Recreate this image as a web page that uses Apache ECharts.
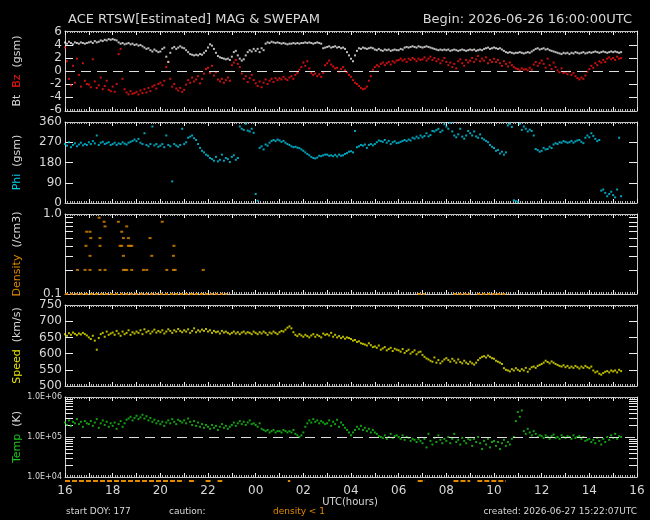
<!DOCTYPE html>
<html>
<head>
<meta charset="utf-8">
<script src="https://cdn.jsdelivr.net/npm/echarts@6/dist/echarts.min.js"></script>
<style>html,body{margin:0;background:#000}#chart{width:650px;height:520px}</style>
</head>
<body>
<div id="chart"></div>
<script>
// 5-minute samples starting 2026-06-26 16:00 UTC (hours since start = i * 5/60)
const STEP_H = 5 / 60;

const bt = [
  4.4,4.2,4.5,4.3,4.1,4.4,4.3,4.2,4.4,4.3,4.2,4.3,
  4.4,4.5,4.3,4.6,4.4,4.5,4.7,4.6,4.8,4.7,4.9,4.8,
  4.9,4.8,4.7,4.4,4.2,4.3,4.1,4.2,4.3,4.1,4.2,4.0,
  4.1,3.9,4.0,3.8,3.6,3.4,3.5,3.2,3.0,3.3,3.1,2.9,
  3.0,3.4,3.6,2.2,1.4,2.8,3.5,3.7,3.4,3.6,3.8,3.6,
  3.5,3.2,2.9,2.6,2.5,2.4,2.5,2.4,2.6,2.5,2.8,3.1,
  3.6,4.1,3.9,3.4,2.8,2.3,2.1,2.0,1.9,1.8,1.9,1.7,
  2.2,2.9,3.1,2.4,1.9,1.6,1.8,2.4,2.9,3.2,3.0,3.4,
  3.1,3.4,2.9,3.5,3.2,4.2,4.4,4.3,4.5,4.4,4.3,4.4,
  4.3,4.2,4.3,4.2,4.1,4.2,4.2,4.3,4.2,4.3,4.2,4.3,
  4.3,4.4,4.3,4.4,4.3,4.2,4.3,4.4,4.3,4.2,3.5,3.6,
  3.7,3.8,3.6,3.7,3.8,3.6,3.7,3.5,3.6,3.4,2.9,2.4,
  1.9,1.5,2.4,3.1,3.5,3.4,3.6,3.5,3.4,3.5,3.6,3.5,
  3.3,3.2,3.4,3.2,3.1,3.3,3.2,3.3,3.1,3.2,3.3,3.2,
  3.2,3.4,3.3,3.6,3.7,3.6,3.7,3.8,3.7,3.6,3.8,3.7,
  3.6,3.7,3.8,3.7,3.6,3.5,3.4,3.3,3.2,3.3,3.2,3.3,
  3.2,3.3,3.1,3.2,3.3,3.2,3.1,3.2,3.3,3.2,3.1,3.2,
  3.3,3.2,3.3,3.1,3.2,3.3,3.2,3.4,3.5,3.6,3.4,3.5,
  3.6,3.5,3.4,3.5,3.3,3.1,2.9,2.8,2.9,2.8,2.7,2.8,
  2.8,2.9,2.8,2.7,2.8,2.9,2.8,3.0,3.2,3.4,3.5,3.3,
  3.4,3.5,3.3,3.4,3.2,3.1,3.0,2.9,2.8,2.7,2.6,2.8,
  2.7,2.8,2.6,2.8,2.7,2.9,2.8,2.7,2.8,2.9,2.7,2.8,
  2.9,2.8,2.9,3.0,2.9,2.8,2.9,3.0,2.9,2.8,2.9,3.0,
  2.9,3.0,2.9,2.8,2.9
];

const bz = [
  3.6,1.5,-1.2,-2.2,0.8,-1.8,1.9,-0.6,-2.4,1.2,-1.5,-2.0,
  -2.1,-2.5,1.8,-1.6,-2.6,-2.2,-1.0,-2.8,-2.3,-1.5,-2.9,-3.1,
  -2.4,-3.2,-2.0,2.6,3.4,-1.2,-2.8,-3.3,-3.6,-3.1,-3.5,-3.4,
  -3.2,-3.6,-3.0,-3.4,-2.8,-3.3,-2.6,-3.1,-2.4,-2.2,-2.7,-2.0,
  -1.8,-2.2,-1.5,0.6,1.4,-1.2,-2.4,-2.0,-2.7,-3.0,-2.6,-3.2,
  -2.9,-2.1,-1.4,-1.8,-1.0,-1.6,-1.3,-0.8,-1.9,-1.2,-0.4,0.3,
  0.5,-0.3,0.8,-0.7,-0.2,-1.3,-1.6,-1.2,-1.8,-1.4,-1.0,-1.5,
  0.9,1.3,1.7,1.1,0.6,-0.4,-1.2,-0.8,-1.7,-1.1,-0.6,-1.4,
  -1.9,-2.3,-1.6,-2.5,-1.8,-1.3,-2.0,-1.5,-1.2,-1.7,-1.1,-1.4,
  -1.1,-1.3,-0.9,-1.2,-1.4,-1.0,-0.8,-1.2,-0.6,-0.3,0.2,0.6,
  1.3,0.8,1.5,0.4,-0.3,-0.6,-0.4,-0.8,-0.5,-0.9,-0.3,0.9,
  1.2,1.6,1.0,0.7,0.4,0.5,-0.1,0.3,0.6,0.1,-0.2,-0.6,
  -0.9,-1.4,-1.8,-2.0,-2.3,-2.6,-2.8,-2.7,-2.4,-1.5,-0.8,0.2,
  0.6,0.9,0.7,1.1,1.3,0.9,1.2,1.4,1.0,1.5,1.3,1.6,
  1.7,1.9,1.6,1.8,1.4,1.9,1.7,2.0,1.8,1.5,1.9,1.7,
  1.8,2.1,1.6,1.9,2.2,1.7,2.0,1.5,1.8,1.2,1.6,2.0,
  1.4,0.9,1.3,0.6,1.1,0.4,1.5,1.8,1.2,0.8,1.7,1.3,
  1.6,2.0,1.4,1.8,2.3,1.5,1.9,1.6,2.1,1.2,1.7,1.4,
  1.9,1.4,1.7,1.2,0.8,1.5,1.1,0.7,1.3,0.9,0.6,0.4,
  0.3,0.1,0.4,0.2,0.3,0.1,0.5,0.2,1.0,1.4,0.8,1.2,
  1.6,1.1,0.5,1.9,0.9,0.3,1.3,0.6,0.1,-0.2,0.4,-0.3,
  -0.2,-0.5,-0.1,-0.6,-0.3,-0.8,-1.1,-1.3,-1.0,-1.2,-0.7,-0.1,
  0.3,0.8,0.5,1.2,0.9,1.5,1.3,1.7,1.4,1.9,2.1,1.8,
  2.0,1.7,2.2,1.9,2.0
];

const phi = [
  262,255,270,248,258,265,252,260,268,256,262,258,
  270,262,275,265,300,258,268,272,262,266,270,258,
  262,268,258,265,262,270,264,260,268,272,276,282,
  275,285,268,262,310,258,252,262,340,256,262,250,
  255,262,248,300,258,252,96,262,255,250,258,330,
  262,270,290,295,300,288,280,262,245,232,225,215,
  210,200,195,188,205,185,192,215,188,200,195,182,
  205,212,192,200,340,330,325,352,322,318,330,312,
  40,10,245,252,238,260,255,268,276,280,275,282,
  278,272,276,268,262,258,252,248,250,246,244,238,
  232,225,218,212,205,200,198,202,210,208,212,215,
  215,210,212,208,214,207,215,210,212,218,222,228,
  230,225,320,248,252,258,255,260,245,258,262,256,
  262,270,278,275,272,280,268,276,262,270,274,266,
  268,272,276,280,275,282,278,290,286,295,288,300,
  292,298,310,296,302,320,318,324,330,315,322,350,
  340,330,356,318,300,292,305,330,295,286,300,320,
  310,300,318,296,290,305,288,282,276,270,258,250,
  245,232,236,220,228,215,225,345,352,338,12,8,
  5,352,325,340,330,318,326,320,300,240,235,228,
  232,245,238,240,250,244,260,266,262,270,268,275,
  272,268,270,276,268,274,278,280,272,266,290,300,
  292,310,298,285,275,280,55,60,45,30,40,50,
  35,25,60,290,30
];

// sparse density readings [hours since start, n]
const density = [
  [0.52,0.2],[0.84,0.2],[1.05,0.2],[1.47,0.2],[1.68,0.2],[2.45,0.2],[2.52,0.2],[2.59,0.2],
  [2.8,0.2],[3.29,0.2],[3.43,0.2],[4.27,0.2],[4.55,0.2],[4.62,0.2],[5.8,0.2],
  [1.05,0.3],[2.45,0.3],[3.64,0.3],[4.55,0.3],
  [0.88,0.4],[1.47,0.4],[2.31,0.4],[2.38,0.4],[2.66,0.4],[2.73,0.4],[2.8,0.4],[4.57,0.4],
  [1.08,0.5],[1.47,0.5],[2.45,0.5],[2.66,0.5],[3.57,0.5],
  [0.91,0.6],[1.05,0.6],[2.38,0.6],
  [1.68,0.7],[2.59,0.7],
  [1.64,0.8],[2.24,0.8],[4.08,0.8],
  [1.43,0.9]
];
const densityFloorSpans = [[0,6.8],[14.8,15.1],[16.3,17.0],[17.3,18.5]];
const cautionSpans = [[0,5.0],[5.2,5.5],[5.9,6.2],[6.4,6.6],[9.35,9.45],[14.8,15.1],[16.3,17.0],[17.3,18.5]];

const speed = [
  660,655,663,658,665,661,657,662,659,664,660,656,
  650,645,655,640,612,648,660,664,652,668,658,662,
  665,658,670,662,655,668,660,664,672,658,666,662,
  668,664,672,660,675,666,670,662,668,674,665,670,
  666,672,662,668,675,670,664,672,668,676,670,666,
  672,668,675,664,670,678,666,672,668,674,670,676,
  668,672,664,670,666,668,662,670,665,668,664,660,
  664,668,662,666,660,665,668,662,666,664,660,668,
  664,660,666,662,668,664,658,665,662,668,664,660,
  666,670,668,674,680,684,678,666,658,654,660,656,
  652,658,654,650,656,660,652,658,654,650,662,658,
  660,656,664,652,658,650,654,648,652,646,650,648,
  645,640,642,636,638,632,630,628,625,632,626,620,
  622,618,625,612,616,620,610,614,618,608,615,612,
  610,606,614,602,608,612,600,605,610,598,604,606,
  596,590,585,582,578,575,588,572,580,570,576,582,
  586,580,575,584,578,572,582,574,570,578,572,568,
  575,570,566,572,580,586,590,592,588,594,590,586,
  584,578,575,572,568,555,550,548,545,552,548,555,
  550,546,552,548,556,544,552,558,560,556,562,565,
  568,572,578,574,570,576,572,568,565,562,560,564,
  558,562,556,560,556,562,558,554,560,556,562,558,
  555,560,548,542,545,538,535,540,544,546,542,548,
  545,548,542,550,546
];

const temp = [
  2.3e5,2.0e5,2.6e5,1.9e5,2.4e5,2.2e5,2.8e5,2.1e5,2.4e5,1.8e5,2.5e5,2.2e5,
  2.1e5,2.5e5,1.9e5,2.3e5,2.8e5,1.7e5,2.2e5,2.6e5,2.0e5,2.4e5,1.8e5,2.2e5,
  1.9e5,2.3e5,1.6e5,2.1e5,2.5e5,1.8e5,2.2e5,2.7e5,2.9e5,3.2e5,2.6e5,3.0e5,
  3.4e5,2.8e5,3.1e5,3.6e5,2.9e5,3.3e5,2.6e5,3.0e5,2.4e5,2.7e5,2.2e5,2.5e5,
  2.1e5,2.4e5,1.9e5,2.3e5,2.6e5,2.2e5,2.8e5,2.4e5,2.1e5,2.7e5,2.5e5,2.3e5,
  2.6e5,2.2e5,2.9e5,2.4e5,2.0e5,2.5e5,1.9e5,2.3e5,1.8e5,2.1e5,1.7e5,2.0e5,
  1.8e5,1.6e5,2.0e5,1.7e5,1.9e5,1.5e5,1.8e5,2.1e5,1.7e5,1.9e5,1.6e5,1.8e5,
  2.0e5,2.3e5,1.9e5,2.2e5,2.5e5,2.1e5,2.4e5,2.0e5,2.3e5,2.6e5,2.1e5,2.2e5,
  2.0e5,1.8e5,2.2e5,1.6e5,1.5e5,1.4e5,1.5e5,1.3e5,1.4e5,1.5e5,1.3e5,1.4e5,
  1.4e5,1.3e5,1.5e5,1.4e5,1.3e5,1.4e5,1.3e5,1.5e5,1.2e5,1.1e5,1.0e5,1.1e5,
  1.3e5,1.8e5,2.2e5,2.6e5,2.3e5,2.8e5,2.4e5,2.6e5,2.2e5,2.5e5,2.3e5,2.1e5,
  2.2e5,2.6e5,1.9e5,2.4e5,2.1e5,2.7e5,1.8e5,2.3e5,2.0e5,1.7e5,1.5e5,1.3e5,
  1.1e5,1.3e5,1.5e5,1.8e5,1.6e5,1.9e5,1.5e5,1.7e5,1.4e5,1.6e5,1.3e5,1.5e5,
  1.3e5,1.2e5,1.05e5,1.0e5,0.95e5,1.1e5,0.9e5,1.0e5,1.2e5,0.95e5,1.05e5,1.1e5,
  1.0e5,0.9e5,1.1e5,0.85e5,1.0e5,0.95e5,0.8e5,0.9e5,0.85e5,0.75e5,0.9e5,0.8e5,
  0.7e5,0.9e5,0.55e5,1.2e5,0.8e5,0.65e5,0.95e5,0.75e5,1.1e5,0.85e5,0.7e5,0.9e5,
  0.8e5,1.0e5,0.7e5,0.9e5,1.2e5,0.75e5,0.85e5,0.65e5,0.95e5,0.8e5,0.7e5,0.9e5,
  0.85e5,0.6e5,0.9e5,0.75e5,1.0e5,0.7e5,0.5e5,0.8e5,0.65e5,0.9e5,0.55e5,0.75e5,
  0.8e5,0.6e5,0.75e5,0.5e5,0.7e5,0.85e5,0.6e5,0.75e5,0.65e5,0.9e5,1.0e5,2.5e5,
  4.2e5,3.2e5,4.6e5,1.4e5,1.2e5,1.6e5,1.3e5,1.1e5,1.4e5,1.2e5,1.0e5,1.1e5,
  1.05e5,0.95e5,1.1e5,1.0e5,0.9e5,1.05e5,1.15e5,0.95e5,1.0e5,0.9e5,1.1e5,1.0e5,
  0.95e5,1.05e5,1.0e5,0.9e5,1.1e5,0.95e5,1.0e5,1.05e5,0.9e5,1.0e5,0.8e5,0.85e5,
  0.9e5,0.75e5,0.85e5,0.7e5,0.95e5,0.8e5,0.65e5,0.9e5,0.75e5,1.0e5,0.85e5,1.1e5,
  0.95e5,1.2e5,0.9e5,1.05e5,1.0e5
];

// axis labels / ticks per panel
const btLabels = [-6,-4,-2,0,2,4,6], btTicks = [-4,-2,2,4];
const phiLabels = [0,90,180,270,360], phiTicks = [90,180,270];
const denLabels = [0.1,1.0], denTicks = [0.2,0.3,0.4,0.5,0.6,0.7,0.8,0.9];
const spdLabels = [500,550,600,650,700,750], spdTicks = [550,600,650,700];
const tmpLabels = [1e4,1e5,1e6], tmpTicks = [2e4,3e4,4e4,5e4,6e4,7e4,8e4,9e4,2e5,3e5,4e5,5e5,6e5,7e5,8e5,9e5];

const FONT = 'DejaVu Sans';
const TXT = '#d8d8d8';
const FRAME = '#c8c8c8';
const C = {bt:'#ececec', bz:'#ff1414', phi:'#00cce8', den:'#e08a00', spd:'#e8e800', tmp:'#18c818'};

const toSeries = arr => arr.map((v, i) => [i * STEP_H, v]);
const log10 = Math.log10;

const panels = [
  {top:31, height:80, type:'value', min:-6.15, max:6.15, labels:btLabels, ticks:btTicks,
   fmt:v => String(v), lab:12, name:'{w|Bt}  {r|Bz}  {w|(gsm)}'},
  {top:122, height:81, type:'value', min:0, max:360, labels:phiLabels, ticks:phiTicks,
   fmt:v => String(v), lab:12, name:'{c|Phi}  {w|(gsm)}'},
  {top:214, height:80, type:'log', min:0.1, max:1, labels:denLabels, ticks:denTicks,
   fmt:v => Math.pow(10, v).toFixed(1), lab:12, name:'{o|Density}  {w|(/cm3)}'},
  {top:305, height:81, type:'value', min:500, max:750, labels:spdLabels, ticks:spdTicks,
   fmt:v => String(v), lab:12, name:'{y|Speed}  {w|(km/s)}'},
  {top:397, height:80, type:'log', min:1e4, max:1e6, labels:tmpLabels, ticks:tmpTicks,
   fmt:v => '1.0E+0' + Math.round(v), lab:8, name:'{g|Temp}  {w|(K)}'}
];

const rich = {
  w:{color:TXT, fontSize:11, fontFamily:FONT},
  r:{color:C.bz, fontSize:11, fontFamily:FONT},
  c:{color:C.phi, fontSize:11, fontFamily:FONT},
  o:{color:C.den, fontSize:11, fontFamily:FONT},
  y:{color:C.spd, fontSize:11, fontFamily:FONT},
  g:{color:C.tmp, fontSize:11, fontFamily:FONT}
};

const hourLabel = v => v % 2 ? '' : String((16 + v) % 24).padStart(2, '0');

const grid = [], xAxis = [], yAxis = [];
panels.forEach((p, i) => {
  grid.push({left:65, width:572, top:p.top, height:p.height});
  ['bottom', 'top'].forEach(pos => xAxis.push({
    gridIndex:i, type:'value', min:0, max:24, interval:1, position:pos,
    axisLine:{onZero:false, lineStyle:{color:FRAME, width:1}},
    axisTick:{inside:true, length:4, lineStyle:{color:'#eee'}},
    minorTick:{show:true, splitNumber:10, length:2, lineStyle:{color:'#bbb'}},
    splitLine:{show:false},
    axisLabel:{show:pos === 'bottom' && i === panels.length - 1, formatter:hourLabel,
      color:TXT, fontSize:12, fontFamily:FONT, margin:8}
  }));
  const isLog = p.type === 'log';
  const tMin = isLog ? log10(p.min) : p.min;
  const tMax = isLog ? log10(p.max) : p.max;
  const tv = arr => isLog ? arr.map(log10) : arr;
  // data axis (frame + name)
  yAxis.push({
    gridIndex:i, type:p.type, min:p.min, max:p.max, position:'left',
    axisLine:{show:true, onZero:false, lineStyle:{color:FRAME}},
    axisTick:{show:false}, axisLabel:{show:false}, splitLine:{show:false},
    name:p.name, nameLocation:'middle', nameRotate:90, nameGap:42,
    nameTextStyle:{rich:rich, color:TXT, fontSize:11, fontFamily:FONT}
  });
  // tick / label axes, left and right
  ['left', 'right'].forEach(pos => yAxis.push({
    gridIndex:i, type:'value', min:tMin, max:tMax, position:pos,
    axisLine:{show:pos === 'right', onZero:false, lineStyle:{color:FRAME}},
    axisTick:{show:true, inside:true, length:8, customValues:tv(p.ticks), lineStyle:{color:'#eee'}},
    axisLabel:{show:pos === 'left', customValues:tv(p.labels), formatter:p.fmt,
      color:TXT, fontSize:p.lab, fontFamily:FONT, margin:3},
    splitLine:{show:false}
  }));
});
// thin strip under the last panel for the caution marks
grid.push({left:65, width:572, top:479, height:4});
xAxis.push({gridIndex:5, type:'value', min:0, max:24, show:false});
yAxis.push({gridIndex:5, type:'value', min:0, max:1, show:false});

const dot = (name, xi, yi, data, color, size) => ({
  name, type:'scatter', xAxisIndex:xi, yAxisIndex:yi, data, symbol:'rect',
  symbolSize:size || 2, itemStyle:{color}, silent:true, animation:false
});
const dashLine = v => ({
  silent:true, symbol:'none', label:{show:false},
  lineStyle:{type:[10,6], color:'#ddd', width:1}, data:[{yAxis:v}]
});

const series = [
  Object.assign(dot('Bz', 0, 0, toSeries(bz), C.bz), {markLine:dashLine(0)}),
  dot('Bt', 0, 0, toSeries(bt), C.bt),
  dot('Phi', 2, 3, toSeries(phi), C.phi),
  dot('Density', 4, 6, density, C.den, [3, 2]),
  dot('Speed', 6, 9, toSeries(speed), C.spd),
  Object.assign(dot('Temp', 8, 12, toSeries(temp), C.tmp), {markLine:dashLine(1e5)})
];
densityFloorSpans.forEach(s => series.push({
  type:'line', xAxisIndex:4, yAxisIndex:6, data:[[s[0], 0.1], [s[1], 0.1]],
  symbol:'none', clip:false, silent:true, animation:false,
  lineStyle:{color:C.den, width:2, type:[3,2]}
}));
cautionSpans.forEach(s => series.push({
  type:'line', xAxisIndex:10, yAxisIndex:15, data:[[s[0], 0.5], [s[1], 0.5]],
  symbol:'none', silent:true, animation:false,
  lineStyle:{color:C.den, width:2, type:[5,2]}
}));

const txt = (x, y, text, opts) => ({
  type:'text', x, y, silent:true,
  style:Object.assign({text, fill:TXT, font:'12px "' + FONT + '"', textVerticalAlign:'middle'}, opts || {})
});

const chart = echarts.init(document.getElementById('chart'));
chart.setOption({
  backgroundColor:'#000',
  animation:false,
  grid, xAxis, yAxis, series,
  graphic:[
    txt(68, 20, 'ACE RTSW[Estimated] MAG & SWEPAM', {font:'13px "' + FONT + '"'}),
    txt(632, 20, 'Begin: 2026-06-26 16:00:00UTC', {font:'13px "' + FONT + '"', textAlign:'right'}),
    txt(350, 502, 'UTC(hours)', {font:'10px "' + FONT + '"', textAlign:'center'}),
    txt(66, 512, 'start DOY: 177', {font:'9px "' + FONT + '"'}),
    txt(169, 512, 'caution:', {font:'9px "' + FONT + '"'}),
    txt(273, 512, 'density < 1', {font:'9px "' + FONT + '"', fill:C.den}),
    txt(637, 512, 'created: 2026-06-27 15:22:07UTC', {font:'9px "' + FONT + '"', textAlign:'right'})
  ]
});
</script>
</body>
</html>
